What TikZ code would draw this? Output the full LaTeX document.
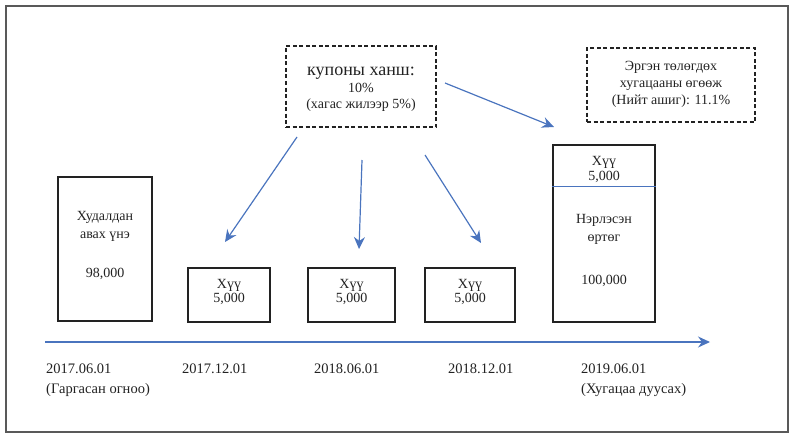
\documentclass[tikz,border=0pt]{standalone}
\usepackage{fontspec}
\setmainfont{Liberation Serif}
\usetikzlibrary{arrows.meta,calc}
\definecolor{arrowblue}{HTML}{4A74BE}
\definecolor{inkgray}{HTML}{222222}
\begin{document}
\begin{tikzpicture}[x=1pt,y=-1pt,
  box/.style={draw=inkgray,line width=1.3pt,inner sep=0pt},
  dbox/.style={draw=inkgray,line width=1.2pt,dash pattern=on 4pt off 2.5pt,inner sep=0pt},
  txt/.style={font=\fontsize{14}{16}\selectfont,text=inkgray,inner sep=0pt,align=center},
  datetxt/.style={font=\fontsize{14.5}{20}\selectfont,text=inkgray,inner sep=0pt,align=left,anchor=north west},
  arr/.style={draw=arrowblue,line width=1.2pt,-{Stealth[length=12pt,width=11pt,inset=4pt]}}]
\useasboundingbox (0,0) rectangle (791,436);
\draw[black!65,line width=1.2pt] (6,6) rectangle (788,432);

% boxes
\node[box,minimum width=94pt,minimum height=144pt] (buy) at (105,249) {};
\node[box,minimum width=82pt,minimum height=54pt] (c1) at (229,295) {};
\node[box,minimum width=87pt,minimum height=54pt] (c2) at (351.5,295) {};
\node[box,minimum width=90pt,minimum height=54pt] (c3) at (470,295) {};
\node[box,minimum width=102pt,minimum height=177pt] (last) at (604,233.5) {};
\draw[arrowblue,line width=1pt] ($(last.north west)+(0,42)$) -- ($(last.north east)+(0,42)$);

\node[dbox,minimum width=150pt,minimum height=81pt] (coupon) at (361,86.5) {};
\node[dbox,minimum width=168pt,minimum height=74pt] (ytm) at (671,85) {};

% texts
\node[txt] (coupontitle) at (361,73) {\fontsize{18}{18}\selectfont купоны ханш:};
\node[txt] (couponrate) at (361,97) {10\%\\(хагас жилээр 5\%)};
\node[txt,font=\fontsize{14}{17}\selectfont] (ytmtext) at (671,84) {Эргэн төлөгдөх\\хугацааны өгөөж\\(Нийт ашиг): 11.1\%};
\node[txt,font=\fontsize{14}{18}\selectfont] (buytext) at (105,226) {Худалдан\\авах үнэ};
\node[txt] (buyval) at (105,274) {98,000};
\node[txt,font=\fontsize{14}{14.5}\selectfont] (c1t) at (229,292) {Хүү\\5,000};
\node[txt,font=\fontsize{14}{14.5}\selectfont] (c2t) at (351.5,292) {Хүү\\5,000};
\node[txt,font=\fontsize{14}{14.5}\selectfont] (c3t) at (470,292) {Хүү\\5,000};
\node[txt,font=\fontsize{14}{15}\selectfont] (lastc) at (604,169) {Хүү\\5,000};
\node[txt,font=\fontsize{14}{18}\selectfont] (lastn) at (604,229) {Нэрлэсэн\\өртөг};
\node[txt] (lastval) at (604,281) {100,000};

% timeline
\coordinate (tl0) at (45,342);
\coordinate (tl1) at (710,342);
\draw[arr] (tl0) -- (tl1);

\node[datetxt] (d1) at (46,364) {2017.06.01\\(Гаргасан огноо)};
\node[datetxt] (d2) at (182,364) {2017.12.01};
\node[datetxt] (d3) at (314,364) {2018.06.01};
\node[datetxt] (d4) at (448,364) {2018.12.01};
\node[datetxt] (d5) at (581,364) {2019.06.01\\(Хугацаа дуусах)};

% arrows
\coordinate (a1s) at (297,137);
\coordinate (a1e) at (225,242);
\coordinate (a2s) at (362,160);
\coordinate (a2e) at (359,249);
\coordinate (a3s) at (425,155);
\coordinate (a3e) at (481,243);
\coordinate (a4s) at (445,83);
\coordinate (a4e) at (554,127);
\draw[arr] (a1s) -- (a1e);
\draw[arr] (a2s) -- (a2e);
\draw[arr] (a3s) -- (a3e);
\draw[arr] (a4s) -- (a4e);
\end{tikzpicture}
\end{document}
